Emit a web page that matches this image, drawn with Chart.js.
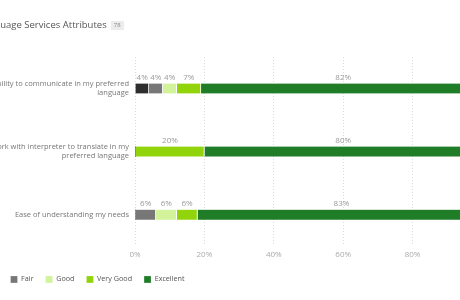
<!DOCTYPE html>
<html>
<head>
<meta charset="utf-8">
<script src="https://cdn.jsdelivr.net/npm/chart.js@4"></script>
<style>
  html, body { margin: 0; padding: 0; background: #fff; overflow: hidden; width: 460px; height: 300px; }
  .wrap { position: absolute; left: -60px; top: 0; width: 560px; height: 300px; }
  .title { position: absolute; left: -21px; top: 18px; font: 9.5px 'Open Sans', sans-serif; color: #555; white-space: nowrap; line-height: 13px; }
  .badge { display: inline-block; margin-left: 4px; width: 13px; height: 9px; line-height: 9px; text-align: center; background: #ececec; color: #888; font-size: 6px; vertical-align: 1px; }
</style>
</head>
<body>
<div class="wrap"><canvas id="chart" width="560" height="300"></canvas></div>
<div class="title">Language Services Attributes<span class="badge">78</span></div>
<script>
// ratings per attribute, in %
const categories = [
  ['Ability to communicate in my preferred', 'language'],
  ['Work with interpreter to translate in my', 'preferred language'],
  'Ease of understanding my needs'
];
const ratingNames = ['Poor', 'Fair', 'Good', 'Very Good', 'Excellent'];
const poor = [4, 0, 0];
const fair = [4, 0, 6];
const good = [4, 0, 6];
const veryGood = [7, 20, 6];
const excellent = [82, 80, 83];
const xTicks = [0, 20, 40, 60, 80, 100];

const COLORS = ['#2e2e2e', '#777777', '#d2f39a', '#92d40c', '#1f7d27'];

// percent label above each segment
const barLabels = {
  id: 'barLabels',
  afterDatasetsDraw(chart) {
    const ctx = chart.ctx;
    ctx.save();
    ctx.font = "8px 'Open Sans', sans-serif";
    ctx.fillStyle = '#9a9a9a';
    ctx.textAlign = 'center';
    ctx.textBaseline = 'bottom';
    chart.data.datasets.forEach((ds, i) => {
      chart.getDatasetMeta(i).data.forEach((bar, j) => {
        const v = ds.data[j];
        if (!v) return;
        ctx.fillText(v + '%', (bar.x + bar.base) / 2, bar.y - bar.height / 2 - 2);
      });
    });
    ctx.restore();
  }
};

const series = [poor, fair, good, veryGood, excellent];

new Chart(document.getElementById('chart'), {
  type: 'bar',
  data: {
    labels: categories,
    datasets: series.map((d, i) => ({
      label: ratingNames[i],
      data: d,
      backgroundColor: COLORS[i],
      borderColor: '#fff',
      borderWidth: { right: 1 },
      borderSkipped: false,
      barThickness: 10
    }))
  },
  options: {
    indexAxis: 'y',
    responsive: false,
    animation: false,
    layout: { padding: { left: 20, right: 18, top: 57, bottom: 7 } },
    scales: {
      x: {
        stacked: true,
        min: 0,
        max: 100,
        afterBuildTicks: s => { s.ticks = xTicks.map(v => ({ value: v })); },
        ticks: { callback: v => v + '%', color: '#aaa', font: { size: 8, family: 'Open Sans' }, padding: 4 },
        grid: { color: '#dcdcdc', drawTicks: false },
        border: { display: false, dash: [1, 2] }
      },
      y: {
        stacked: true,
        afterFit: s => { s.width = 175; },
        ticks: { color: '#777', font: { size: 7.5, family: 'Open Sans' }, padding: 6 },
        grid: { display: false, drawTicks: false },
        border: { display: false }
      }
    },
    plugins: {
      legend: {
        position: 'bottom',
        align: 'start',
        labels: { boxWidth: 7, boxHeight: 7, padding: 12, color: '#555', font: { size: 7.2, family: 'Open Sans' } }
      },
      tooltip: { enabled: false }
    }
  },
  plugins: [barLabels]
});
</script>
</body>
</html>
